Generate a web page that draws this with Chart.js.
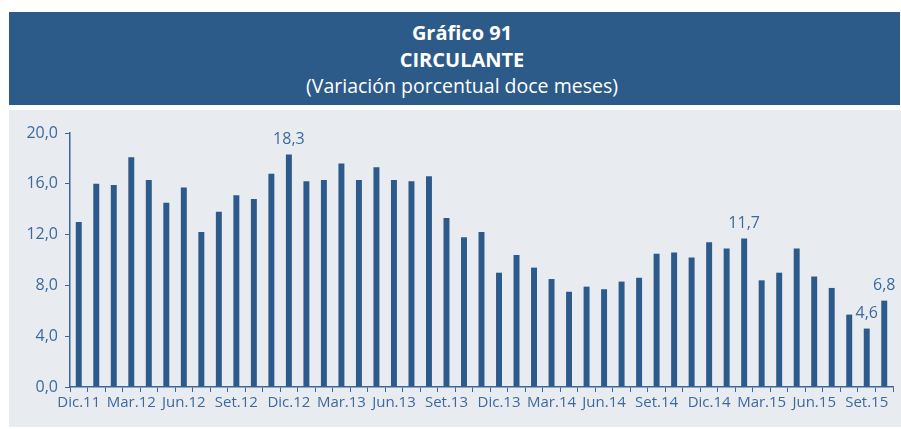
<!DOCTYPE html>
<html lang="es">
<head>
<meta charset="utf-8">
<title>Gráfico 91 - Circulante</title>
<script src="https://cdn.jsdelivr.net/npm/chart.js@4.4.1/dist/chart.umd.min.js"></script>
<style>
    body {
        margin: 0;
        width: 901px;
        height: 429px;
        background: #ffffff;
        font-family: "Open Sans", sans-serif;
        position: relative;
        overflow: hidden;
    }
    #header {
        position: absolute;
        left: 9px;
        top: 12px;
        width: 891px;
        height: 93px;
        background: #2d5b89;
        color: #ffffff;
        text-align: center;
        box-sizing: border-box;
        padding-left: 15px;
        padding-top: 8px;
        line-height: 26.5px;
    }
    #header .bold { font-weight: 700; font-size: 20px; }
    #header .sub { font-size: 19.5px; }
    #panel {
        position: absolute;
        left: 9px;
        top: 110px;
        width: 892px;
        height: 317px;
        background: #e8ebf0;
    }
</style>
</head>
<body>
<div id="header">
    <div class="bold">Gráfico 91</div>
    <div class="bold">CIRCULANTE</div>
    <div class="sub">(Variación porcentual doce meses)</div>
</div>
<div id="panel">
    <canvas id="circulanteChart" width="892" height="317"></canvas>
</div>
<script>
// Monthly periods, Dic.11 to Oct.15
const periods = [
    'Dic.11', 'Ene.12', 'Feb.12', 'Mar.12', 'Abr.12', 'May.12', 'Jun.12', 'Jul.12', 'Ago.12', 'Set.12', 'Oct.12', 'Nov.12',
    'Dic.12', 'Ene.13', 'Feb.13', 'Mar.13', 'Abr.13', 'May.13', 'Jun.13', 'Jul.13', 'Ago.13', 'Set.13', 'Oct.13', 'Nov.13',
    'Dic.13', 'Ene.14', 'Feb.14', 'Mar.14', 'Abr.14', 'May.14', 'Jun.14', 'Jul.14', 'Ago.14', 'Set.14', 'Oct.14', 'Nov.14',
    'Dic.14', 'Ene.15', 'Feb.15', 'Mar.15', 'Abr.15', 'May.15', 'Jun.15', 'Jul.15', 'Ago.15', 'Set.15', 'Oct.15'
];

// Currency in circulation, 12-month % change
const circulante = [
    13.0, 16.0, 15.9, 18.1, 16.3, 14.5, 15.7, 12.2, 13.8, 15.1, 14.8, 16.8,
    18.3, 16.2, 16.3, 17.6, 16.3, 17.3, 16.3, 16.2, 16.6, 13.3, 11.8, 12.2,
    9.0, 10.4, 9.4, 8.5, 7.5, 7.9, 7.7, 8.3, 8.6, 10.5, 10.6, 10.2,
    11.4, 10.9, 11.7, 8.4, 9.0, 10.9, 8.7, 7.8, 5.7, 4.6, 6.8
];

// Bars that carry a value label
const labeledPeriods = ['Dic.12', 'Feb.15', 'Set.15', 'Oct.15'];

const yTicks = [0, 4, 8, 12, 16, 20];

const barColor = '#2c5a8a';
const axisColor = '#3a6797';
const textColor = '#3c6a9c';

function formatNum(v) {
    return v.toFixed(1).replace('.', ',');
}

// Draws the value above selected bars
const valueLabels = {
    id: 'valueLabels',
    afterDatasetsDraw(chart) {
        const ctx = chart.ctx;
        const meta = chart.getDatasetMeta(0);
        ctx.save();
        ctx.font = '16px "Open Sans", sans-serif';
        ctx.fillStyle = textColor;
        ctx.textAlign = 'center';
        ctx.textBaseline = 'middle';
        labeledPeriods.forEach(p => {
            const i = periods.indexOf(p);
            const bar = meta.data[i];
            ctx.fillText(formatNum(circulante[i]), bar.x, bar.y - 15);
        });
        ctx.restore();
    }
};

const ctx = document.getElementById('circulanteChart').getContext('2d');
new Chart(ctx, {
    type: 'bar',
    data: {
        labels: periods,
        datasets: [{
            data: circulante,
            backgroundColor: barColor,
            barPercentage: 0.34,
            categoryPercentage: 1.0
        }]
    },
    options: {
        responsive: false,
        animation: false,
        layout: {
            padding: { left: 0, top: 23, right: 8, bottom: 0 }
        },
        plugins: {
            legend: { display: false },
            title: { display: false },
            tooltip: { enabled: false }
        },
        scales: {
            x: {
                grid: {
                    display: true,
                    drawOnChartArea: false,
                    drawTicks: true,
                    tickLength: 5,
                    color: axisColor,
                    offset: true
                },
                border: { display: true, color: axisColor, width: 1.5 },
                ticks: {
                    autoSkip: false,
                    maxRotation: 0,
                    minRotation: 0,
                    padding: 2,
                    color: textColor,
                    font: { family: '"Open Sans", sans-serif', size: 15 },
                    callback: function (value, index) {
                        return index % 3 === 0 ? periods[index] : '';
                    }
                },
                afterFit: function (scale) { scale.height = 40; }
            },
            y: {
                min: 0,
                max: 20,
                afterBuildTicks: function (scale) {
                    scale.ticks = yTicks.map(v => ({ value: v }));
                },
                grid: {
                    display: true,
                    drawOnChartArea: false,
                    drawTicks: true,
                    tickLength: 5,
                    color: axisColor
                },
                border: { display: true, color: axisColor, width: 1.5 },
                ticks: {
                    padding: 7,
                    color: textColor,
                    font: { family: '"Open Sans", sans-serif', size: 16 },
                    callback: function (value) { return formatNum(value); }
                },
                afterFit: function (scale) { scale.width = 61; }
            }
        }
    },
    plugins: [valueLabels]
});
</script>
</body>
</html>
